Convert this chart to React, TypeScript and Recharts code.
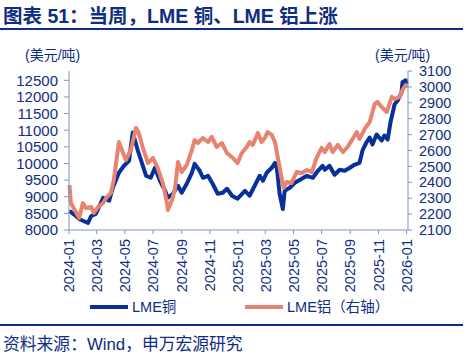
import React from 'react'
import { LineChart, Line, XAxis, YAxis } from 'recharts'

// LME copper (USD/t), left axis
const copperDates = [
    '2024-01-02', '2024-01-16', '2024-01-23', '2024-02-11', '2024-02-18', '2024-02-28', '2024-03-15', '2024-03-28',
    '2024-04-05', '2024-04-18', '2024-04-29', '2024-05-10', '2024-05-18', '2024-05-29', '2024-06-16', '2024-06-26',
    '2024-07-05', '2024-07-16', '2024-07-27', '2024-08-02', '2024-08-13', '2024-08-24', '2024-09-01', '2024-09-12',
    '2024-09-23', '2024-09-29', '2024-10-10', '2024-10-17', '2024-10-28', '2024-11-07', '2024-11-18', '2024-11-29',
    '2024-12-08', '2024-12-19', '2024-12-31', '2025-01-16', '2025-01-26', '2025-02-06', '2025-02-17', '2025-02-24',
    '2025-03-04', '2025-03-15', '2025-03-22', '2025-03-26', '2025-04-01', '2025-04-08', '2025-04-12', '2025-04-23',
    '2025-05-04', '2025-05-19', '2025-05-30', '2025-06-12', '2025-06-23', '2025-07-03', '2025-07-08', '2025-07-18',
    '2025-07-29', '2025-08-09', '2025-08-20', '2025-08-31', '2025-09-10', '2025-09-21', '2025-09-28', '2025-10-06',
    '2025-10-13', '2025-10-19', '2025-10-28', '2025-11-08', '2025-11-14', '2025-11-21', '2025-11-27', '2025-12-06',
    '2025-12-13', '2025-12-21', '2025-12-23', '2025-12-30', '2026-01-01',
]
const copperValues = [
    8574, 8420, 8330, 8210, 8420, 8480, 8970, 8880,
    9270, 9720, 9930, 10080, 10930, 10390, 9630, 9570,
    9870, 9480, 9180, 8970, 9090, 9330, 9120, 9390,
    9720, 9990, 9780, 9570, 9630, 9390, 9090, 9120,
    9240, 9030, 8940, 9180, 9030, 9330, 9630, 9480,
    9720, 9870, 10020, 9870, 9090, 8630, 9180, 9270,
    9420, 9540, 9630, 9570, 9780, 9930, 9810, 9930,
    9660, 9810, 9780, 9870, 9960, 10020, 10410, 10630,
    10780, 10570, 10870, 10690, 10840, 10720, 11230, 11780,
    11900, 12140, 12440, 12500, 12380,
]

// LME aluminium (USD/t), right axis
const alumDates = [
    '2024-01-02', '2024-01-05', '2024-01-16', '2024-01-23', '2024-01-31', '2024-02-07', '2024-02-18', '2024-02-24',
    '2024-03-04', '2024-03-15', '2024-03-21', '2024-04-01', '2024-04-07', '2024-04-18', '2024-04-27', '2024-05-03',
    '2024-05-14', '2024-05-25', '2024-05-31', '2024-06-09', '2024-06-20', '2024-07-01', '2024-07-11', '2024-07-22',
    '2024-07-31', '2024-08-02', '2024-08-11', '2024-08-17', '2024-08-24', '2024-09-01', '2024-09-12', '2024-09-23',
    '2024-09-29', '2024-10-06', '2024-10-17', '2024-10-28', '2024-11-05', '2024-11-16', '2024-11-27', '2024-12-08',
    '2024-12-21', '2024-12-31', '2025-01-09', '2025-01-20', '2025-01-26', '2025-02-02', '2025-02-13', '2025-02-21',
    '2025-02-28', '2025-03-06', '2025-03-15', '2025-03-22', '2025-03-28', '2025-04-06', '2025-04-10', '2025-04-16',
    '2025-04-27', '2025-05-08', '2025-05-19', '2025-05-30', '2025-06-10', '2025-06-20', '2025-07-01', '2025-07-08',
    '2025-07-18', '2025-07-25', '2025-08-05', '2025-08-16', '2025-08-26', '2025-09-06', '2025-09-15', '2025-09-21',
    '2025-10-02', '2025-10-13', '2025-10-24', '2025-10-30', '2025-11-08', '2025-11-19', '2025-11-30', '2025-12-06',
    '2025-12-17', '2025-12-23', '2025-12-30', '2026-01-01',
]
const alumValues = [
    2383, 2270, 2213, 2175, 2270, 2238, 2245, 2207,
    2245, 2270, 2300, 2333, 2415, 2653, 2584, 2540,
    2603, 2742, 2710, 2616, 2521, 2553, 2490, 2396,
    2270, 2226, 2289, 2352, 2528, 2465, 2509, 2603,
    2666, 2647, 2679, 2653, 2685, 2622, 2647, 2584,
    2553, 2521, 2584, 2622, 2653, 2635, 2710, 2653,
    2679, 2716, 2698, 2653, 2559, 2415, 2364, 2402,
    2396, 2465, 2459, 2477, 2465, 2553, 2616, 2590,
    2641, 2590, 2635, 2590, 2622, 2672, 2716, 2672,
    2735, 2779, 2893, 2905, 2874, 2842, 2937, 2924,
    2937, 2980, 3012, 2993,
]

const xTickLabels = [
    '2024-01', '2024-03', '2024-05', '2024-07', '2024-09', '2024-11',
    '2025-01', '2025-03', '2025-05', '2025-07', '2025-09', '2025-11', '2026-01',
]
const leftTicks = [8000, 8500, 9000, 9500, 10000, 10500, 11000, 11500, 12000, 12500]
const rightTicks = [2100, 2200, 2300, 2400, 2500, 2600, 2700, 2800, 2900, 3000, 3100]

const NAVY = '#0f2d82'
const AXIS = '#7c94d0'
const COPPER = '#08309a'
const ALUM = '#e8836f'
const FONT = '"Liberation Sans", Arial, "Noto Sans CJK SC", sans-serif'

const toTime = (d: string) => Date.parse(d + 'T00:00:00Z')

const copperData = copperDates.map((d, i) => ({ t: toTime(d), copper: copperValues[i] }))
const alumData = alumDates.map((d, i) => ({ t: toTime(d), alum: alumValues[i] }))
const xTicks = xTickLabels.map((m) => toTime(m + '-01'))

const fmtMonth = (v: number) => {
    const d = new Date(v)
    return `${d.getUTCFullYear()}-${String(d.getUTCMonth() + 1).padStart(2, '0')}`
}

// rotated date labels, reading bottom to top
const DateTick = (props: any) => {
    const { x, y, payload } = props
    return (
        <text
            x={x}
            y={y}
            transform={`rotate(-90, ${x}, ${y})`}
            textAnchor="end"
            dy="0.36em"
            dx={-3}
            fill={NAVY}
            fontSize={14.5}
            fontFamily={FONT}
        >
            {fmtMonth(payload.value)}
        </text>
    )
}

export default function App() {
    return (
        <div style={{ position: 'absolute', left: 0, top: 0, width: 470, height: 359, background: '#fff', fontFamily: FONT }}>
            <div style={{ position: 'absolute', left: 3, top: 4, fontSize: 19.5, fontWeight: 'bold', color: NAVY, whiteSpace: 'nowrap', lineHeight: '24px' }}>
                图表 51：当周，LME 铜、LME 铝上涨
            </div>
            <div style={{ position: 'absolute', left: 0, top: 28, width: 463, height: 2, background: NAVY }} />
            <div style={{ position: 'absolute', left: 25, top: 44, fontSize: 14, color: NAVY, whiteSpace: 'nowrap' }}>(美元/吨)</div>
            <div style={{ position: 'absolute', left: 375, top: 44, fontSize: 14, color: NAVY, whiteSpace: 'nowrap' }}>(美元/吨)</div>

            <LineChart width={470} height={359} margin={{ top: 71, right: 0, bottom: 59, left: 0 }} style={{ position: 'absolute', left: 0, top: 0 }}>
                <XAxis
                    dataKey="t"
                    type="number"
                    scale="time"
                    domain={[toTime('2024-01-01'), toTime('2026-01-04')]}
                    ticks={xTicks}
                    interval={0}
                    height={70}
                    tick={<DateTick />}
                    tickSize={4}
                    axisLine={{ stroke: AXIS }}
                    tickLine={{ stroke: AXIS }}
                    allowDuplicatedCategory={false}
                />
                <YAxis
                    yAxisId="left"
                    orientation="left"
                    width={69}
                    domain={[8000, 12780]}
                    ticks={leftTicks}
                    interval={0}
                    tickSize={5}
                    tickMargin={6}
                    axisLine={{ stroke: AXIS }}
                    tickLine={{ stroke: AXIS }}
                    tick={{ fill: NAVY, fontSize: 15, fontFamily: FONT }}
                />
                <YAxis
                    yAxisId="right"
                    orientation="right"
                    width={62}
                    domain={[2100, 3100]}
                    ticks={rightTicks}
                    interval={0}
                    tickSize={4}
                    tickMargin={7}
                    axisLine={{ stroke: AXIS }}
                    tickLine={{ stroke: AXIS }}
                    tick={{ fill: NAVY, fontSize: 14.5, fontFamily: FONT }}
                />
                <Line
                    yAxisId="left"
                    data={copperData}
                    dataKey="copper"
                    type="linear"
                    stroke={COPPER}
                    strokeWidth={4}
                    strokeLinejoin="round"
                    dot={false}
                    isAnimationActive={false}
                />
                <Line
                    yAxisId="right"
                    data={alumData}
                    dataKey="alum"
                    type="linear"
                    stroke={ALUM}
                    strokeWidth={4}
                    strokeLinejoin="round"
                    dot={false}
                    isAnimationActive={false}
                />
            </LineChart>

            <div style={{ position: 'absolute', left: 90, top: 305, width: 38, height: 4, background: COPPER }} />
            <div style={{ position: 'absolute', left: 132, top: 298, fontSize: 14.5, color: NAVY, whiteSpace: 'nowrap', lineHeight: '18px' }}>LME铜</div>
            <div style={{ position: 'absolute', left: 245, top: 305, width: 38, height: 4, background: ALUM }} />
            <div style={{ position: 'absolute', left: 287, top: 298, fontSize: 14.5, color: NAVY, whiteSpace: 'nowrap', lineHeight: '18px' }}>LME铝（右轴）</div>

            <div style={{ position: 'absolute', left: 0, top: 324, width: 463, height: 2, background: NAVY }} />
            <div style={{ position: 'absolute', left: 3, top: 335, fontSize: 16.8, color: NAVY, whiteSpace: 'nowrap', lineHeight: '20px' }}>
                资料来源：Wind，申万宏源研究
            </div>
        </div>
    )
}
